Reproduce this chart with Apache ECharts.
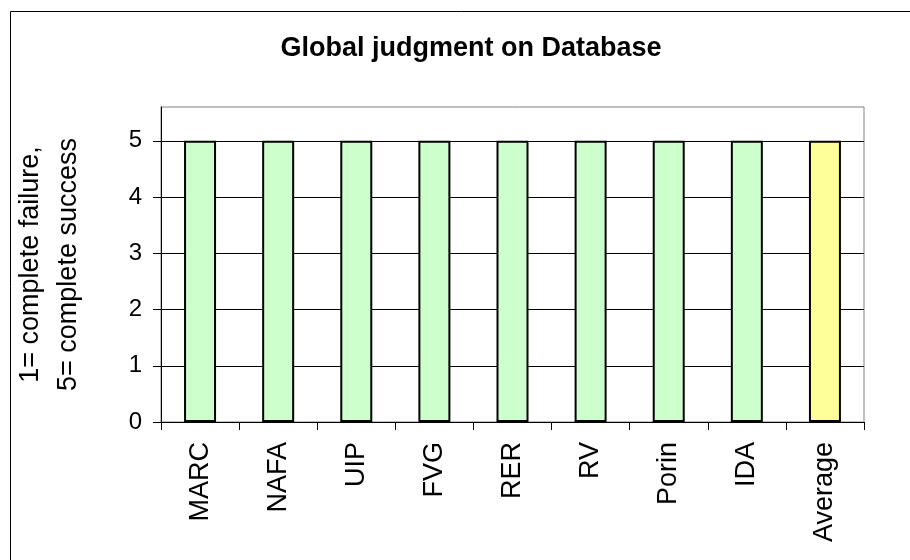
<!DOCTYPE html>
<html>
<head>
<meta charset="utf-8">
<script src="https://cdn.jsdelivr.net/npm/echarts@6/dist/echarts.min.js"></script>
<style>html,body{margin:0;padding:0;background:#fff}#c{width:910px;height:560px}</style>
</head>
<body>
<div id="c"></div>
<script>
const titleText = 'Global judgment on Database';
const yAxisName = '1= complete failure,\n5= complete success';
const categories = ['MARC', 'NAFA', 'UIP', 'FVG', 'RER', 'RV', 'Porin', 'IDA', 'Average'];
const values = [5, 5, 5, 5, 5, 5, 5, 5, 5];
const yTicks = [0, 1, 2, 3, 4, 5];

const FONT = "'Liberation Sans', Arial, sans-serif";
const chart = echarts.init(document.getElementById('c'));
chart.setOption({
  animation: false,
  backgroundColor: '#fff',
  graphic: [{
    type: 'rect', left: 8, top: 9, z: -10,
    shape: { width: 920, height: 570 },
    style: { fill: 'none', stroke: '#000', lineWidth: 1 }
  }],
  title: {
    text: titleText, left: 466, top: 30, textAlign: 'center',
    textStyle: { fontFamily: FONT, fontSize: 27, fontWeight: 'bold', color: '#000' }
  },
  grid: {
    left: 161, top: 107, right: 46, bottom: 138,
    show: true, borderColor: '#808080', borderWidth: 1, backgroundColor: '#fff'
  },
  xAxis: {
    type: 'category', data: categories,
    axisLine: { lineStyle: { color: '#000', width: 1 } },
    axisTick: { show: true, length: 8, lineStyle: { color: '#000' } },
    axisLabel: { rotate: 90, margin: 20, fontFamily: FONT, fontSize: 27, color: '#000' }
  },
  yAxis: {
    type: 'value', min: 0, max: 5.6, interval: 1,
    name: yAxisName, nameLocation: 'middle', nameRotate: 90, nameGap: 73,
    nameTextStyle: { fontFamily: FONT, fontSize: 27, color: '#000', lineHeight: 38 },
    axisLine: { show: true, lineStyle: { color: '#000', width: 1 } },
    axisTick: { show: true, length: 8, lineStyle: { color: '#000' }, customValues: yTicks },
    axisLabel: { margin: 19, fontFamily: FONT, fontSize: 24, color: '#000', customValues: yTicks },
    splitLine: { show: true, lineStyle: { color: '#000', width: 1 } }
  },
  series: [{
    type: 'bar', data: values, barWidth: 32,
    itemStyle: {
      borderColor: '#000', borderWidth: 2,
      color: p => categories[p.dataIndex] === 'Average' ? '#FFFF99' : '#CCFFCC'
    }
  }]
});
</script>
</body>
</html>
